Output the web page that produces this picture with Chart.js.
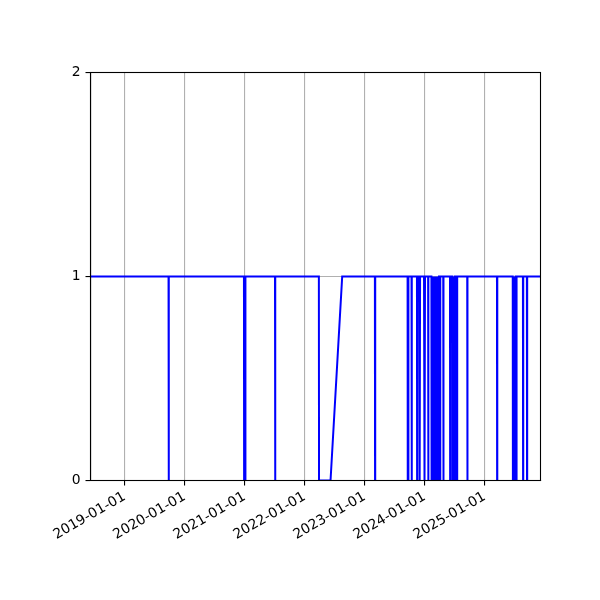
<!DOCTYPE html>
<html>
<head>
<meta charset="utf-8">
<script src="https://cdn.jsdelivr.net/npm/chart.js@4"></script>
<style>
html,body{margin:0;padding:0;background:#fff;}
#c{display:block;}
</style>
</head>
<body>
<canvas id="c" width="600" height="600"></canvas>
<script>
// ---- data ----
const pointDates = [
  '2018-06-08','2019-09-26','2019-09-27','2019-09-28',
  '2020-12-28','2020-12-29','2021-01-05','2021-01-06',
  '2021-07-05','2021-07-06','2021-07-07',
  '2022-03-29','2022-03-30','2022-06-08','2022-08-18',
  '2023-03-05','2023-03-06','2023-03-07',
  '2023-09-20','2023-09-21','2023-09-24','2023-09-25',
  '2023-10-14','2023-10-15','2023-10-16',
  '2023-11-16','2023-11-17','2023-11-18',
  '2023-11-30','2023-12-01','2023-12-04','2023-12-05',
  '2023-12-29','2023-12-30','2024-01-03','2024-01-04',
  '2024-01-23','2024-01-24','2024-01-25',
  '2024-02-12','2024-02-13','2024-02-17','2024-02-18',
  '2024-02-20','2024-02-21','2024-02-22',
  '2024-02-24','2024-02-25','2024-03-01','2024-03-02',
  '2024-03-04','2024-03-05','2024-03-06',
  '2024-03-08','2024-03-09','2024-03-14','2024-03-15',
  '2024-03-17','2024-03-18','2024-03-19',
  '2024-03-21','2024-03-22','2024-03-28','2024-03-29',
  '2024-04-01','2024-04-02','2024-04-05','2024-04-06',
  '2024-04-24','2024-04-25','2024-04-26',
  '2024-06-04','2024-06-05','2024-06-06',
  '2024-06-18','2024-06-19','2024-06-24','2024-06-25',
  '2024-06-27','2024-06-28','2024-07-03','2024-07-04',
  '2024-07-06','2024-07-07','2024-07-08',
  '2024-07-10','2024-07-11','2024-07-17','2024-07-18',
  '2024-09-17','2024-09-18','2024-09-19',
  '2025-03-17','2025-03-18','2025-03-19',
  '2025-06-21','2025-06-22','2025-06-28','2025-06-29',
  '2025-07-01','2025-07-02','2025-07-08','2025-07-09',
  '2025-07-11','2025-07-12','2025-07-15','2025-07-16',
  '2025-08-22','2025-08-23','2025-08-24',
  '2025-09-15','2025-09-16','2025-09-17',
  '2025-12-07'
];
const pointValues = [
  1,1,0,1,
  1,0,0,1,
  1,0,1,
  1,0,0,1,
  1,0,1,
  1,0,0,1,
  1,0,1,
  1,0,1,
  1,0,0,1,
  1,0,0,1,
  1,0,1,
  1,0,0,1,
  1,0,1,
  1,0,0,1,
  1,0,1,
  1,0,0,1,
  1,0,1,
  1,0,0,1,
  1,0,0,1,
  1,0,1,
  1,0,1,
  1,0,0,1,
  1,0,0,1,
  1,0,1,
  1,0,0,1,
  1,0,1,
  1,0,1,
  1,0,0,1,
  1,0,0,1,
  1,0,0,1,
  1,0,1,
  1,0,1,
  1
];
const xTickLabels = ['2019-01-01','2020-01-01','2021-01-01','2022-01-01','2023-01-01','2024-01-01','2025-01-01'];
const yTickLabels = ['0','1','2'];
const xRange = ['2018-06-08','2025-12-07'];

// ---- build ----
const ts = s => Date.parse(s + 'T00:00:00Z');
const data = pointDates.map((d, i) => ({x: ts(d), y: pointValues[i]}));
const xTickValues = xTickLabels.map(ts);
const labelOf = v => { const i = xTickValues.indexOf(v); return i >= 0 ? xTickLabels[i] : ''; };

const FONT = {family: 'DejaVu Sans', size: 13.9};

const bgPlugin = {
  id: 'bg',
  beforeDraw(chart) {
    const ctx = chart.ctx;
    ctx.save(); ctx.fillStyle = '#fff'; ctx.fillRect(0, 0, chart.width, chart.height); ctx.restore();
  }
};
const framePlugin = {
  id: 'frame',
  afterDraw(chart) {
    const a = chart.chartArea, ctx = chart.ctx;
    ctx.save();
    ctx.strokeStyle = '#000'; ctx.lineWidth = 1.1;
    ctx.strokeRect(a.left, a.top, a.right - a.left, a.bottom - a.top);
    ctx.restore();
  }
};

new Chart(document.getElementById('c'), {
  type: 'line',
  data: {
    datasets: [{
      data: data,
      borderColor: '#0000ff',
      borderWidth: 2,
      pointRadius: 0,
      tension: 0,
      fill: false
    }]
  },
  options: {
    responsive: false,
    devicePixelRatio: 1,
    animation: false,
    parsing: false,
    layout: {padding: {top: 72.5, right: 59.5, left: 0, bottom: 0}},
    plugins: {legend: {display: false}, tooltip: {enabled: false}},
    scales: {
      x: {
        type: 'linear',
        min: ts(xRange[0]),
        max: ts(xRange[1]),
        afterBuildTicks(scale) { scale.ticks = xTickValues.map(v => ({value: v})); },
        afterFit(scale) { scale.height = 119.5; },
        ticks: {
          callback: v => labelOf(v),
          autoSkip: false,
          minRotation: 30,
          maxRotation: 30,
          color: '#000',
          font: FONT,
          padding: 3
        },
        grid: {color: '#b0b0b0', lineWidth: 1.1, tickColor: '#000', tickLength: 5, drawTicks: true},
        border: {color: '#000', width: 1.1}
      },
      y: {
        type: 'linear',
        min: 0,
        max: 2,
        afterBuildTicks(scale) { scale.ticks = yTickLabels.map(t => ({value: Number(t)})); },
        afterFit(scale) { scale.width = 90.5; },
        ticks: {
          callback: v => yTickLabels[yTickLabels.indexOf(String(v))],
          color: '#000',
          font: FONT,
          padding: 5
        },
        grid: {color: '#b0b0b0', lineWidth: 1.1, tickColor: '#000', tickLength: 5, drawTicks: true},
        border: {color: '#000', width: 1.1}
      }
    }
  },
  plugins: [bgPlugin, framePlugin]
});
</script>
</body>
</html>
